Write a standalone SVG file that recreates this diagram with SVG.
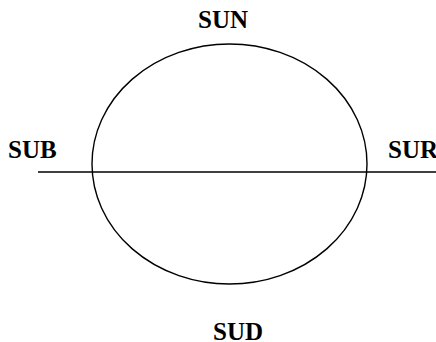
<svg xmlns="http://www.w3.org/2000/svg" width="436" height="342" viewBox="0 0 436 342">
<style>
.lbl{font-family:"Liberation Serif","Times New Roman",serif;font-weight:bold;font-size:25px;fill:#000}
.ln{fill:none;stroke:#000;stroke-width:1.4}
</style>
<rect width="436" height="342" fill="#fff"/>
<g id="connectors">
<line class="ln" x1="38" y1="172" x2="436" y2="172"/>
</g>
<g id="circle"><ellipse class="ln" cx="229.5" cy="164" rx="137.5" ry="120"/></g>
<g id="sun"><text class="lbl" x="223" y="28" text-anchor="middle">SUN</text></g>
<g id="sub"><text class="lbl" x="8" y="158">SUB</text></g>
<g id="sur"><text class="lbl" x="388" y="158">SUR</text></g>
<g id="sud"><text class="lbl" x="238" y="340" text-anchor="middle">SUD</text></g>
</svg>
